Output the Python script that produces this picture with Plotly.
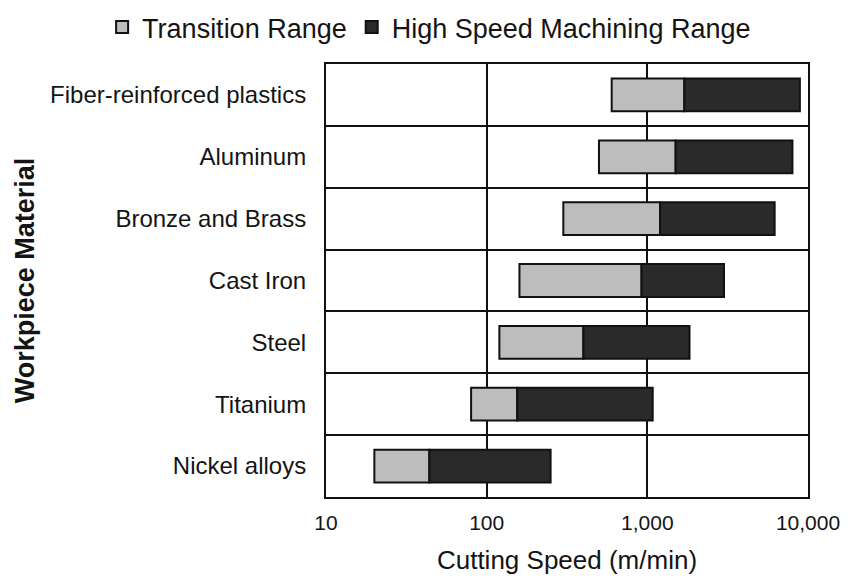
import plotly.graph_objects as go

materials = ["Fiber-reinforced plastics", "Aluminum", "Bronze and Brass",
             "Cast Iron", "Steel", "Titanium", "Nickel alloys"]
transition_start = [600, 500, 300, 160, 120, 80, 20]
hsm_start = [1700, 1500, 1200, 920, 400, 155, 44]
hsm_end = [8900, 8000, 6200, 3000, 1830, 1080, 250]
x_tickvals = [10, 100, 1000, 10000]
x_ticktext = ["10", "100", "1,000", "10,000"]

trans_len = [b - a for a, b in zip(transition_start, hsm_start)]
hsm_len = [b - a for a, b in zip(hsm_start, hsm_end)]

FONT = "Liberation Sans, Arial, sans-serif"
INK = "#141414"

fig = go.Figure()
fig.add_bar(
    y=materials, x=trans_len, base=transition_start, orientation="h",
    name="Transition Range",
    marker=dict(color="#bdbdbd", line=dict(color="#111111", width=2)),
)
fig.add_bar(
    y=materials, x=hsm_len, base=hsm_start, orientation="h",
    name="High Speed Machining Range",
    marker=dict(color="#2a2a2a", line=dict(color="#111111", width=2)),
)

fig.update_layout(
    width=840, height=569,
    margin=dict(l=318, r=40, t=56, b=80, autoexpand=False),
    paper_bgcolor="white", plot_bgcolor="white",
    barmode="overlay", bargap=0.47,
    font=dict(family=FONT, color=INK, size=22),
    legend=dict(
        orientation="h", xref="paper", yref="paper",
        x=-0.4645, xanchor="left", y=1.141, yanchor="top",
        font=dict(size=27, color=INK), traceorder="normal",
        bgcolor="rgba(0,0,0,0)",
    ),
    xaxis=dict(
        type="log", range=[1, 4],
        tickvals=x_tickvals, ticktext=x_ticktext,
        showgrid=True, gridcolor="#111111", gridwidth=2,
        showline=True, linecolor="#111111", linewidth=2, mirror=True,
        ticks="", ticklabelstandoff=6, ticklabeloverflow="allow",
        tickfont=dict(size=21),
        title=dict(text="Cutting Speed (m/min)", font=dict(size=26), standoff=18),
        zeroline=False,
    ),
    yaxis=dict(
        type="category", autorange="reversed",
        tickson="boundaries",
        showgrid=True, gridcolor="#111111", gridwidth=2,
        showline=True, linecolor="#111111", linewidth=2, mirror=True,
        ticks="", ticklabelstandoff=13,
        tickfont=dict(size=24),
        title=dict(text="<b>Workpiece Material</b>", font=dict(size=27), standoff=8),
    ),
)

fig.write_html("out.html")
